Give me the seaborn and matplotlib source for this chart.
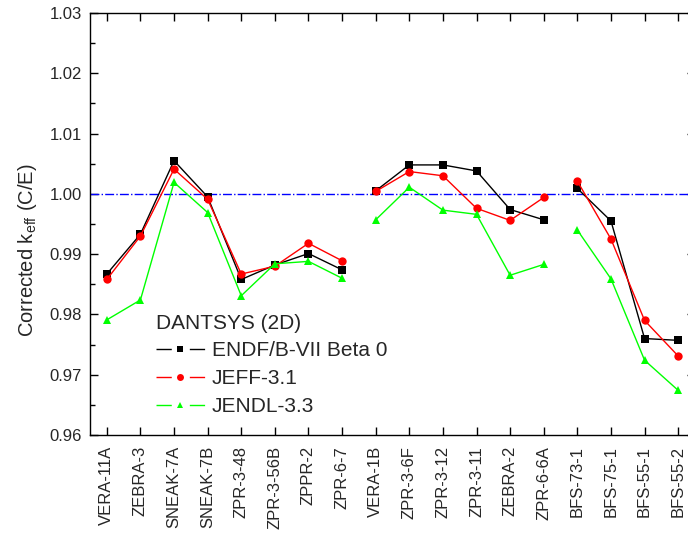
import pandas as pd
import seaborn as sns
import matplotlib.pyplot as plt
from matplotlib.ticker import MultipleLocator

# benchmark cases, in plotting order (three groups, lines broken between groups)
cases = ['VERA-11A', 'ZEBRA-3', 'SNEAK-7A', 'SNEAK-7B', 'ZPR-3-48', 'ZPR-3-56B', 'ZPPR-2', 'ZPR-6-7',
         'VERA-1B', 'ZPR-3-6F', 'ZPR-3-12', 'ZPR-3-11', 'ZEBRA-2', 'ZPR-6-6A',
         'BFS-73-1', 'BFS-75-1', 'BFS-55-1', 'BFS-55-2']
groups = [1]*8 + [2]*6 + [3]*4

endf = [0.9867, 0.9933, 1.0055, 0.9995, 0.9858, 0.9882, 0.9901, 0.9874,
        1.0005, 1.0048, 1.0048, 1.0038, 0.9974, 0.9957,
        1.0009, 0.9955, 0.9760, 0.9757]
jeff = [0.9858, 0.9930, 1.0041, 0.9991, 0.9867, 0.9880, 0.9918, 0.9889,
        1.0004, 1.0037, 1.0030, 0.9976, 0.9956, 0.9994,
        1.0021, 0.9925, 0.9790, 0.9731]
jendl = [0.9791, 0.9824, 1.0019, 0.9969, 0.9831, 0.9884, 0.9888, 0.9860,
         0.9957, 1.0011, 0.9973, 0.9966, 0.9865, 0.9883,
         0.9940, 0.9859, 0.9724, 0.9674]

libs = ['ENDF/B-VII Beta 0', 'JEFF-3.1', 'JENDL-3.3']
colors = {'ENDF/B-VII Beta 0': 'black', 'JEFF-3.1': '#ff0000', 'JENDL-3.3': '#00ff00'}
marks = {'ENDF/B-VII Beta 0': 's', 'JEFF-3.1': 'o', 'JENDL-3.3': '^'}

rows = []
for lib, vals in zip(libs, [endf, jeff, jendl]):
    for i, (c, g, v) in enumerate(zip(cases, groups, vals)):
        rows.append({'pos': i, 'case': c, 'grp': g, 'lib': lib, 'value': v})
df = pd.DataFrame(rows)

sns.set_style('ticks')
plt.rcParams['font.family'] = ['Liberation Sans', 'DejaVu Sans']
plt.rcParams['mathtext.fontset'] = 'custom'
plt.rcParams['mathtext.rm'] = 'Liberation Sans'
plt.rcParams['mathtext.it'] = 'Liberation Sans'

fig = plt.figure(figsize=(6.88, 5.48), dpi=100)
ax = fig.add_axes([90/688, 113/548, 605/688, 422/548])

ax.axhline(1.0, color='#0000ff', ls='-.', lw=1, zorder=1)

sns.lineplot(data=df, x='pos', y='value', hue='lib', style='lib', units='grp', estimator=None,
             palette=colors, markers=marks, dashes=False, markersize=6, markeredgewidth=0,
             linewidth=1, ax=ax, legend=False, sort=False)

# legend handles drawn by hand: line - marker - line, with gaps round the marker
handles = [plt.Line2D([], [], color=colors[l], marker=marks[l], markersize=5, lw=1,
                      markeredgewidth=0, linestyle=(0, (11, 13)))
           for l in libs]
leg = ax.legend(handles, libs, title='DANTSYS (2D)', frameon=False, fontsize=15, title_fontsize=15,
                loc='upper left', bbox_to_anchor=(0.085, 0.322), handlelength=2.33,
                handletextpad=0.35, labelspacing=0.42, borderpad=0.2)
leg._legend_box.align = 'left'

ax.set_xlim(-0.5, 17.5)
ax.set_ylim(0.96, 1.03)
ax.set_xticks(range(len(cases)))
ax.set_xticklabels(cases, rotation=90, fontsize=12)
ax.yaxis.set_major_locator(MultipleLocator(0.01))
ax.yaxis.set_minor_locator(MultipleLocator(0.005))
ax.yaxis.set_major_formatter(plt.FormatStrFormatter('%.2f'))
ax.tick_params(axis='y', labelsize=12, pad=6)
ax.tick_params(axis='x', pad=8)
ax.tick_params(which='both', direction='in', top=True, right=True, width=1, color='black')
ax.tick_params(which='major', length=6)
ax.tick_params(which='minor', length=3.5)
ax.tick_params(axis='x', which='minor', bottom=False, top=False)
for s in ax.spines.values():
    s.set_linewidth(1)
    s.set_color('black')

ax.set_xlabel('')
ax.set_ylabel(r'Corrected k$_{\mathregular{eff}}$ (C/E)', fontsize=14.5)
ax.yaxis.set_label_coords(-0.084, 0.438)

fig.savefig('out.png', dpi=100)
